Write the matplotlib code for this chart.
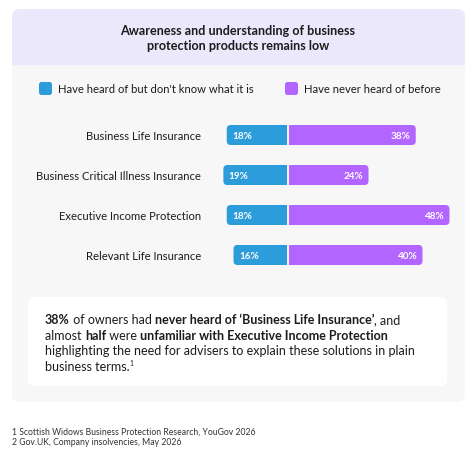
import matplotlib
matplotlib.use('Agg')
import matplotlib.pyplot as plt
from matplotlib.patches import FancyBboxPatch, Rectangle

W, H = 471, 477

products = ['Business Life Insurance', 'Business Critical Illness Insurance',
            'Executive Income Protection', 'Relevant Life Insurance']
heard_not_know = [18, 19, 18, 16]
never_heard = [38, 24, 48, 40]
series_names = ["Have heard of but don't know what it is", 'Have never heard of before']
title_lines = ['Awareness and understanding of business', 'protection products remains low']
footnotes = ['1 Scottish Widows Business Protection Research, YouGov 2026',
             '2 Gov.UK, Company insolvencies, May 2026']

blue = '#2D9CDB'
purple = '#B266FF'
ink = '#1c1c1c'

plt.rcParams['font.family'] = ['Lato', 'DejaVu Sans']

fig = plt.figure(figsize=(W / 100, H / 100), dpi=100)
fig.patch.set_facecolor('white')

# background axes in pixel units
bg = fig.add_axes([0, 0, 1, 1])
bg.set_xlim(0, W)
bg.set_ylim(H, 0)
bg.axis('off')


def rbox(ax, x, y, w, h, r, color, z=1):
    p = FancyBboxPatch((x, y), w, h, boxstyle=f'round,pad=0,rounding_size={r}',
                       fc=color, ec='none', zorder=z)
    ax.add_patch(p)


# card
rbox(bg, 12, 10, 453, 393, 8, '#F7F7F7')
rbox(bg, 12, 10, 453, 56, 8, '#ECE8FC', 2)
bg.add_patch(Rectangle((12, 40), 453, 26, fc='#ECE8FC', ec='none', zorder=2))
rbox(bg, 28, 298, 419, 89, 6, 'white', 2)

# title
for k, line in enumerate(title_lines):
    bg.text(238, 31 + k * 14.5, line, ha='center', va='center', fontsize=9.1,
            fontweight='bold', color=ink, zorder=3)

# legend
for (sx, tx), name, col in zip([(39, 58), (285, 304)], series_names, [blue, purple]):
    rbox(bg, sx, 83, 13, 13, 2.5, col, 3)
    bg.text(tx, 89.5, name, ha='left', va='center', fontsize=8.1, color=ink, zorder=3)

# bars
ax = fig.add_axes([205 / W, 1 - 276 / H, 255 / W, 160 / H])
ax.patch.set_alpha(0)
ax.set_xlim(-(287.5 - 205) / 3.375, (460 - 287.5) / 3.375)
ax.set_ylim(3.5, -0.5)
for s in ax.spines.values():
    s.set_visible(False)
ax.set_xticks([])
ax.set_yticks(range(len(products)))
ax.set_yticklabels(products, fontsize=8.1, color=ink)
ax.tick_params(length=0, pad=3)

r = 4 / 3.375
ma = (4 * 0.025) / r
bh = 0.5
for i, (b, p) in enumerate(zip(heard_not_know, never_heard)):
    for x0, w, col in [(-b, b, blue), (0, p, purple)]:
        ax.add_patch(FancyBboxPatch((x0, i - bh / 2), w, bh,
                                    boxstyle=f'round,pad=0,rounding_size={r}',
                                    mutation_aspect=ma, fc=col, ec='none'))
    ax.add_patch(Rectangle((-b / 2, i - bh / 2), b / 2, bh, fc=blue, ec='none'))
    ax.add_patch(Rectangle((0, i - bh / 2), p / 2, bh, fc=purple, ec='none'))
    ax.vlines(0, i - bh / 2, i + bh / 2, color='white', lw=1.3)
    ax.text(-b + 1.6, i + 0.02, f'{b}%', ha='left', va='center', color='white',
            fontsize=7.2, fontweight='bold')
    ax.text(p - 1.6, i + 0.02, f'{p}%', ha='right', va='center', color='white',
            fontsize=7.2, fontweight='bold')

# annotation with mixed weights
note = [
    [('38%', 'bold'), (' of owners had ', 'normal'),
     ('never heard of \u2018Business Life Insurance\u2019', 'bold'), (', and', 'normal')],
    [('almost ', 'normal'), ('half', 'bold'), (' were ', 'normal'),
     ('unfamiliar with Executive Income Protection', 'bold')],
    [('highlighting the need for advisers to explain these solutions in plain', 'normal')],
    [('business terms.', 'normal')],
]
renderer = fig.canvas.get_renderer()
for k, segs in enumerate(note):
    x = 45
    y = 320 + k * 15.6
    for s, wgt in segs:
        t = bg.text(x, y, s, ha='left', va='center', fontsize=9.0, fontweight=wgt,
                    color=ink, zorder=3)
        x += t.get_window_extent(renderer).width
    if k == 3:
        bg.text(x - 0.5, y - 3, '1', ha='left', va='center', fontsize=4.8, color=ink, zorder=3)

for k, fn in enumerate(footnotes):
    bg.text(12, 432 + k * 11, fn, ha='left', va='center', fontsize=6.2, color='#333333')

fig.savefig('out.png', dpi=100)
